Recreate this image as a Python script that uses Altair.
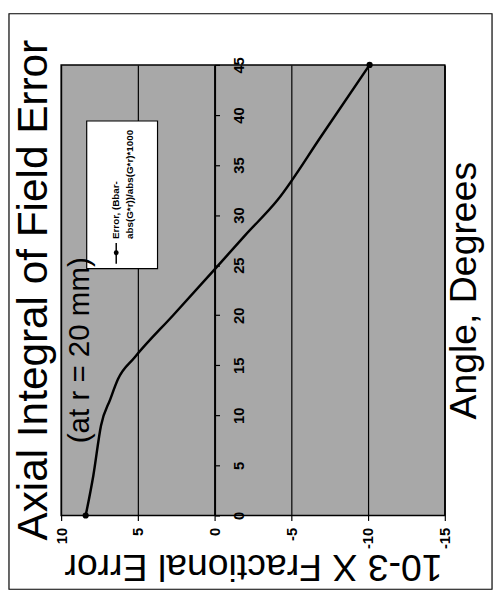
import altair as alt
import pandas as pd

# ---- data ----
angles = [0, 4, 9, 11.6, 13.6, 15.8, 20, 24.4, 28, 31.5, 38, 45]
errors = [8.4, 7.9, 7.4, 6.8, 6.3, 5.2, 2.7, 0.1, -2.0, -4.1, -7.0, -10.1]
markers = [1, 0, 0, 0, 0, 0, 0, 0, 0, 0, 0, 1]
value_ticks = [10, 5, 0, -5, -10, -15]
angle_ticks = [0, 5, 10, 15, 20, 25, 30, 35, 40, 45]
legend_lines = ["Error, (Bbar-", "abs(G*r))/abs(G*r)*1000"]
title_text = "Axial Integral of Field Error"
subtitle_text = "(at r = 20 mm)"
x_title = "10-3 X Fractional Error"
y_title = "Angle, Degrees"

df = pd.DataFrame({"angle": angles, "error": errors, "marker": markers})
one = pd.DataFrame({"k": [0]})

W, H = 390, 458
x0 = W * 10 / 25  # pixel position of error = 0
FONT = "Liberation Sans, Arial, sans-serif"
NARROW = "Liberation Sans Narrow, Liberation Sans, Arial, sans-serif"

xenc = alt.X(
    "error:Q",
    scale=alt.Scale(domain=[10, -15], nice=False, zero=False),
    axis=alt.Axis(
        values=value_ticks, labelExpr="'' + datum.value",
        grid=True, gridColor="black", gridWidth=1.2, gridOpacity=1,
        domain=False, tickColor="black", tickSize=5, tickWidth=1.2,
        labelAngle=270, labelFontSize=15, labelFontWeight="bold", labelFont=NARROW,
        labelColor="black", labelPadding=7,
        title=x_title, titleAngle=180, titleX=W / 2, titleY=51,
        titleAlign="center", titleBaseline="middle", titleFontSize=38,
        titleFontWeight="normal", titleFont=FONT, titleColor="black",
    ),
)
yenc = alt.Y(
    "angle:Q",
    scale=alt.Scale(domain=[0, 45], nice=False, zero=False),
    axis=alt.Axis(
        orient="right", offset=-(W - x0), values=angle_ticks, grid=False,
        domainColor="black", domainWidth=2, tickColor="black", tickSize=5, tickWidth=1.2,
        labelAngle=270, labelAlign="center", labelBaseline="top", labelPadding=12,
        labelFontSize=15, labelFontWeight="bold", labelFont=NARROW, labelColor="black",
        title=y_title, titleAngle=270, titleX=410 - x0, titleY=H / 2,
        titleAlign="center", titleBaseline="middle", titleFontSize=38,
        titleFontWeight="normal", titleFont=FONT, titleColor="black",
    ),
)

base = alt.Chart(df)
line = base.mark_line(color="black", strokeWidth=2.5, interpolate="monotone").encode(
    x=xenc, y=yenc, order="angle:Q"
)
pts = base.transform_filter("datum.marker == 1").mark_point(
    filled=True, color="black", size=40, opacity=1
).encode(x=xenc, y=yenc)

ann = alt.Chart(one)
frame = ann.mark_rect(fillOpacity=0, stroke="black", strokeWidth=1.2).encode(
    x=alt.value(-53), x2=alt.value(438), y=alt.value(-52), y2=alt.value(533)
)
leg_box = ann.mark_rect(fill="white", stroke="black", strokeWidth=1.2).encode(
    x=alt.value(26), x2=alt.value(98), y=alt.value(57), y2=alt.value(207)
)
leg_rule = ann.mark_rule(color="black", strokeWidth=1.5).encode(
    x=alt.value(56), y=alt.value(181), y2=alt.value(202)
)
leg_dot = ann.mark_point(filled=True, color="black", size=25, opacity=1).encode(
    x=alt.value(56), y=alt.value(191)
)
leg_txt = [
    ann.mark_text(angle=270, align="left", baseline="middle", fontSize=10,
                  fontWeight="bold", font=NARROW, color="black").encode(
        x=alt.value(56 + 14 * i), y=alt.value(177), text=alt.value(t)
    )
    for i, t in enumerate(legend_lines)
]
title = ann.mark_text(angle=270, align="center", baseline="middle", fontSize=43,
                      font=FONT, color="black").encode(
    x=alt.value(-27), y=alt.value(H / 2), text=alt.value(title_text)
)
subtitle = ann.mark_text(angle=270, align="center", baseline="middle", fontSize=30,
                         font=FONT, color="black").encode(
    x=alt.value(19), y=alt.value(290), text=alt.value(subtitle_text)
)

chart = alt.layer(
    line, pts, frame, leg_box, leg_rule, leg_dot, *leg_txt, title, subtitle
).properties(
    width=W, height=H, autosize="none", background="white",
    padding={"left": 54, "top": 53, "right": 50, "bottom": 78},
).configure_view(
    fill="#a8a8a8", stroke="black", strokeWidth=1.5
)

chart.save("out.html", embed_options={"renderer": "svg", "actions": False})
